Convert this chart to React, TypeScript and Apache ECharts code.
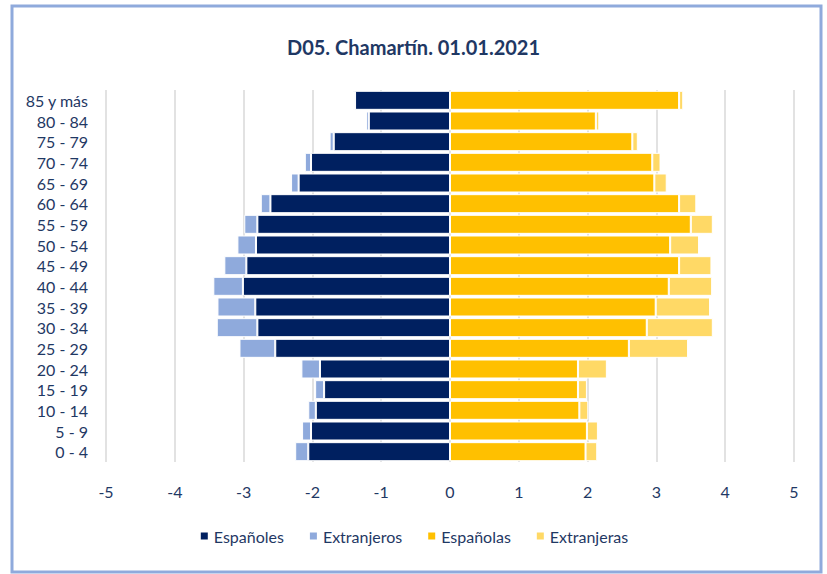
import React, { useEffect, useRef } from "react";
import * as echarts from "echarts";

const categories = [
  "0 - 4", "5 - 9", "10 - 14", "15 - 19", "20 - 24", "25 - 29", "30 - 34", "35 - 39",
  "40 - 44", "45 - 49", "50 - 54", "55 - 59", "60 - 64", "65 - 69", "70 - 74", "75 - 79",
  "80 - 84", "85 y más",
];

// Men (shown as negative values)
const espanoles = [
  -2.06, -2.02, -1.95, -1.83, -1.89, -2.54, -2.8, -2.83,
  -3.01, -2.96, -2.82, -2.8, -2.61, -2.2, -2.02, -1.69,
  -1.18, -1.38,
];
const extranjeros = [
  -0.19, -0.13, -0.11, -0.13, -0.27, -0.52, -0.59, -0.55,
  -0.43, -0.32, -0.27, -0.19, -0.14, -0.11, -0.09, -0.06,
  -0.04, -0.03,
];
// Women
const espanolas = [
  1.97, 1.99, 1.88, 1.86, 1.86, 2.6, 2.86, 2.99,
  3.18, 3.33, 3.2, 3.5, 3.33, 2.97, 2.94, 2.65,
  2.12, 3.33,
];
const extranjeras = [
  0.17, 0.16, 0.13, 0.13, 0.42, 0.86, 0.96, 0.79,
  0.63, 0.47, 0.42, 0.32, 0.25, 0.18, 0.12, 0.08,
  0.05, 0.06,
];

const xTicks = { min: -5, max: 5, interval: 1 };

const NAVY = "#1F3864";
const FONT = "Lato";

export default function App() {
  const ref = useRef<HTMLDivElement>(null);
  useEffect(() => {
    if (!ref.current) return;
    const chart = echarts.init(ref.current, null, { renderer: "svg" });
    const barStyle = (color: string) => ({
      color,
      borderColor: "#ffffff",
      borderWidth: 1,
    });
    const mk = (name: string, data: number[], color: string) => ({
      name,
      type: "bar",
      stack: "total",
      data,
      barCategoryGap: "8%",
      itemStyle: barStyle(color),
      emphasis: { disabled: true },
    });
    chart.setOption({
      animation: false,
      backgroundColor: "#ffffff",
      title: {
        text: "D05. Chamartín. 01.01.2021",
        left: "center",
        top: 32,
        textStyle: { fontFamily: FONT, fontWeight: "bold", fontSize: 20, color: NAVY },
      },
      legend: {
        bottom: 25,
        left: "center",
        icon: "rect",
        itemWidth: 9,
        itemHeight: 9,
        itemGap: 24,
        textStyle: { fontFamily: FONT, fontSize: 16, color: NAVY },
        data: ["Españoles", "Extranjeros", "Españolas", "Extranjeras"],
      },
      grid: { left: 106, right: 33, top: 90, bottom: 112, containLabel: false },
      xAxis: {
        type: "value",
        min: xTicks.min,
        max: xTicks.max,
        interval: xTicks.interval,
        axisLine: { show: false },
        axisTick: { show: false },
        splitLine: { show: true, lineStyle: { color: "#D9D9D9", width: 1.5 } },
        axisLabel: { margin: 21, fontFamily: FONT, fontSize: 16, color: NAVY },
      },
      yAxis: {
        type: "category",
        data: categories,
        axisLine: { show: false, onZero: false },
        axisTick: { show: false },
        axisLabel: { interval: 0, margin: 18, fontFamily: FONT, fontSize: 16, color: NAVY },
      },
      graphic: [
        {
          type: "rect",
          shape: { x: 12, y: 6, width: 809, height: 566 },
          style: { fill: "none", stroke: "#8FAADC", lineWidth: 3 },
          silent: true,
        },
      ],
      series: [
        mk("Españoles", espanoles, "#002060"),
        mk("Extranjeros", extranjeros, "#8FAADC"),
        mk("Españolas", espanolas, "#FFC000"),
        mk("Extranjeras", extranjeras, "#FFD966"),
      ],
    });
    return () => chart.dispose();
  }, []);
  return (
    <div
      ref={ref}
      style={{ position: "fixed", left: 0, top: 0, width: 827, height: 574 }}
    />
  );
}
